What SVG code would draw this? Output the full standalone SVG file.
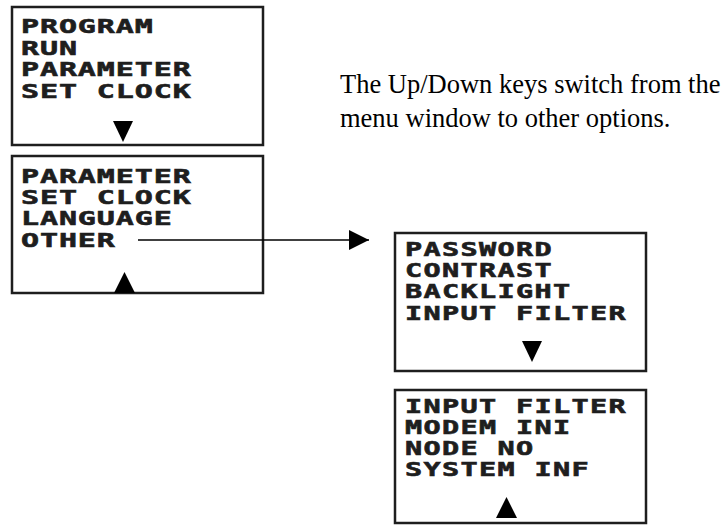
<svg xmlns="http://www.w3.org/2000/svg" width="727" height="525" viewBox="0 0 727 525">
<defs>
<style>
.box{fill:#fff;stroke:#1e1e1e;stroke-width:2.5}
.lcd{font-family:"DejaVu Sans Mono","Liberation Mono",monospace;font-weight:bold;fill:#1e1e1e;stroke:#1e1e1e;stroke-width:0.6;font-size:20px;letter-spacing:0.6px}
.lcds{font-family:"DejaVu Sans Mono","Liberation Mono",monospace;font-weight:bold;fill:#1e1e1e;stroke:#1e1e1e;stroke-width:0.6;font-size:19px;letter-spacing:0.9px}
.note{font-family:"Liberation Serif","Times New Roman",serif;font-size:26.5px;fill:#000}
.tri{fill:#000}
.conn{stroke:#000;stroke-width:1.5;fill:none}
</style>
<marker id="ah" markerUnits="userSpaceOnUse" markerWidth="21" markerHeight="21" refX="20" refY="10" orient="auto">
<path d="M0,0 L20,10 L0,20 z" fill="#000"/>
</marker>
<path id="down" d="M-10,0 L10,0 L0,21 z"/>
<path id="up" d="M-10.5,21 L10.5,21 L0,0 z"/>
</defs>
<g id="menu1">
<rect class="box" x="12" y="7" width="251" height="138"/>
<text class="lcd" transform="translate(21,33) scale(1.5,1)">PROGRAM</text>
<text class="lcd" transform="translate(21,54.5) scale(1.5,1)">RUN</text>
<text class="lcd" transform="translate(21,76) scale(1.5,1)">PARAMETER</text>
<text class="lcd" transform="translate(21,98) scale(1.5,1)">SET CLOCK</text>
<use href="#down" class="tri" x="123" y="121"/>
</g>
<g id="menu2">
<rect class="box" x="12" y="156" width="251" height="137"/>
<text class="lcd" transform="translate(21,183) scale(1.5,1)">PARAMETER</text>
<text class="lcd" transform="translate(21,203.5) scale(1.5,1)">SET CLOCK</text>
<text class="lcd" transform="translate(21,225) scale(1.5,1)">LANGUAGE</text>
<text class="lcd" transform="translate(21,247) scale(1.5,1)">OTHER</text>
<use href="#up" class="tri" x="124.5" y="272"/>
</g>
<g id="menu3">
<rect class="box" x="395" y="233" width="251" height="138"/>
<text class="lcds" transform="translate(405,256) scale(1.5,1)">PASSWORD</text>
<text class="lcds" transform="translate(405,277) scale(1.5,1)">CONTRAST</text>
<text class="lcds" transform="translate(405,297.5) scale(1.5,1)">BACKLIGHT</text>
<text class="lcds" transform="translate(405,320) scale(1.5,1)">INPUT FILTER</text>
<use href="#down" class="tri" x="532" y="341"/>
</g>
<g id="menu4">
<rect class="box" x="395" y="390" width="251" height="133"/>
<text class="lcds" transform="translate(405,413) scale(1.5,1)">INPUT FILTER</text>
<text class="lcds" transform="translate(405,433.5) scale(1.5,1)">MODEM INI</text>
<text class="lcds" transform="translate(405,455) scale(1.5,1)">NODE NO</text>
<text class="lcds" transform="translate(405,476) scale(1.5,1)">SYSTEM INF</text>
<use href="#up" class="tri" x="506.5" y="497"/>
</g>
<g id="note">
<text class="note" x="340" y="93">The Up/Down keys switch from the</text>
<text class="note" x="340" y="127">menu window to other options.</text>
</g>
<g id="connectors">
<line class="conn" x1="138" y1="240" x2="369" y2="240" marker-end="url(#ah)"/>
</g>
</svg>
